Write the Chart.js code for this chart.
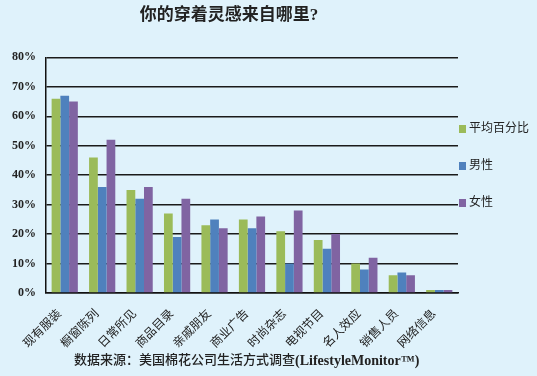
<!DOCTYPE html>
<html>
<head>
<meta charset="utf-8">
<script src="https://cdn.jsdelivr.net/npm/chart.js@4.4.0/dist/chart.umd.min.js"></script>
<style>
  html, body { margin: 0; padding: 0; background: #DFF2FB; }
  #wrap { width: 537px; height: 376px; position: relative; }
</style>
</head>
<body>
<div id="wrap"><canvas id="c" width="537" height="376"></canvas></div>
<script>
const categories = ['现有服装', '橱窗陈列', '日常所见', '商品目录', '亲戚朋友', '商业广告', '时尚杂志', '电视节目', '名人效应', '销售人员', '网络信息'];
const averageValues = [66, 46, 35, 27, 23, 25, 21, 18, 10, 6, 1];
const maleValues    = [67, 36, 32, 19, 25, 22, 10, 15, 8, 7, 1];
const femaleValues  = [65, 52, 36, 32, 22, 26, 28, 20, 12, 6, 1];
const seriesNames = ['平均百分比', '男性', '女性'];
const yTicks = [0, 10, 20, 30, 40, 50, 60, 70, 80];
const titleText = '你的穿着灵感来自哪里?';
const sourceCJK = '数据来源：美国棉花公司生活方式调查';
const sourceLatin = '(LifestyleMonitor™)';

const FONT = "'Liberation Serif', 'Noto Sans CJK SC', serif";
const colors = ['#9BBB59', '#4F81BD', '#8064A2'];

const bgPlugin = {
  id: 'bg',
  beforeDraw(chart) {
    const ctx = chart.ctx;
    ctx.save();
    ctx.fillStyle = '#DFF2FB';
    ctx.fillRect(0, 0, chart.width, chart.height);
    ctx.restore();
  }
};

const extrasPlugin = {
  id: 'extras',
  afterDraw(chart) {
    const ctx = chart.ctx;
    const area = chart.chartArea;
    ctx.save();
    // legend
    const rowsY = [129, 166, 203];
    chart.data.datasets.forEach((ds, i) => {
      const y = rowsY[i];
      ctx.fillStyle = ds.backgroundColor;
      ctx.fillRect(area.right + 1, y - 4, 7, 8);
      ctx.fillStyle = '#222';
      ctx.font = "12px " + FONT;
      ctx.textBaseline = 'middle';
      ctx.textAlign = 'left';
      ctx.fillText(ds.label, area.right + 11, y);
    });
    // source
    ctx.fillStyle = '#222';
    ctx.textAlign = 'left';
    ctx.textBaseline = 'middle';
    ctx.font = "500 13px " + FONT;
    ctx.fillText(sourceCJK, 74, 361);
    const w = ctx.measureText(sourceCJK).width;
    ctx.font = "bold 14px 'Liberation Serif', serif";
    ctx.fillText(sourceLatin, 74 + w, 361);
    ctx.restore();
  }
};

new Chart(document.getElementById('c'), {
  type: 'bar',
  data: {
    labels: categories,
    datasets: [
      { label: seriesNames[0], data: averageValues, backgroundColor: colors[0] },
      { label: seriesNames[1], data: maleValues, backgroundColor: colors[1] },
      { label: seriesNames[2], data: femaleValues, backgroundColor: colors[2] }
    ]
  },
  options: {
    responsive: false,
    animation: false,
    devicePixelRatio: 1,
    layout: { padding: { left: 0, right: 79, top: 0, bottom: 0 } },
    datasets: { bar: { categoryPercentage: 0.7, barPercentage: 1.0 } },
    plugins: {
      legend: { display: false },
      tooltip: { enabled: false },
      title: {
        display: true,
        text: titleText,
        color: '#222',
        font: { family: FONT, size: 17, weight: 'bold' },
        padding: { top: 5, bottom: 32 }
      }
    },
    scales: {
      x: {
        grid: { display: false, drawTicks: false },
        border: { display: true, color: '#111', width: 1.5 },
        ticks: {
          color: '#222',
          font: { family: FONT, size: 12 },
          minRotation: 45,
          maxRotation: 45,
          padding: 14,
          labelOffset: -5,
          autoSkip: false
        },
        afterFit(scale) { scale.height = 83; }
      },
      y: {
        min: 0,
        max: 80,
        afterBuildTicks(scale) { scale.ticks = yTicks.map(v => ({ value: v })); },
        grid: { color: '#1a1a1a', lineWidth: 1.5, drawTicks: false },
        border: { display: true, color: '#111', width: 1.5 },
        ticks: {
          color: '#222',
          padding: 10,
          font: { family: "'Liberation Serif', serif", size: 12, weight: 'bold' },
          callback: (v) => v + '%'
        },
        afterFit(scale) { scale.width = 46; }
      }
    }
  },
  plugins: [bgPlugin, extrasPlugin]
});
</script>
</body>
</html>
